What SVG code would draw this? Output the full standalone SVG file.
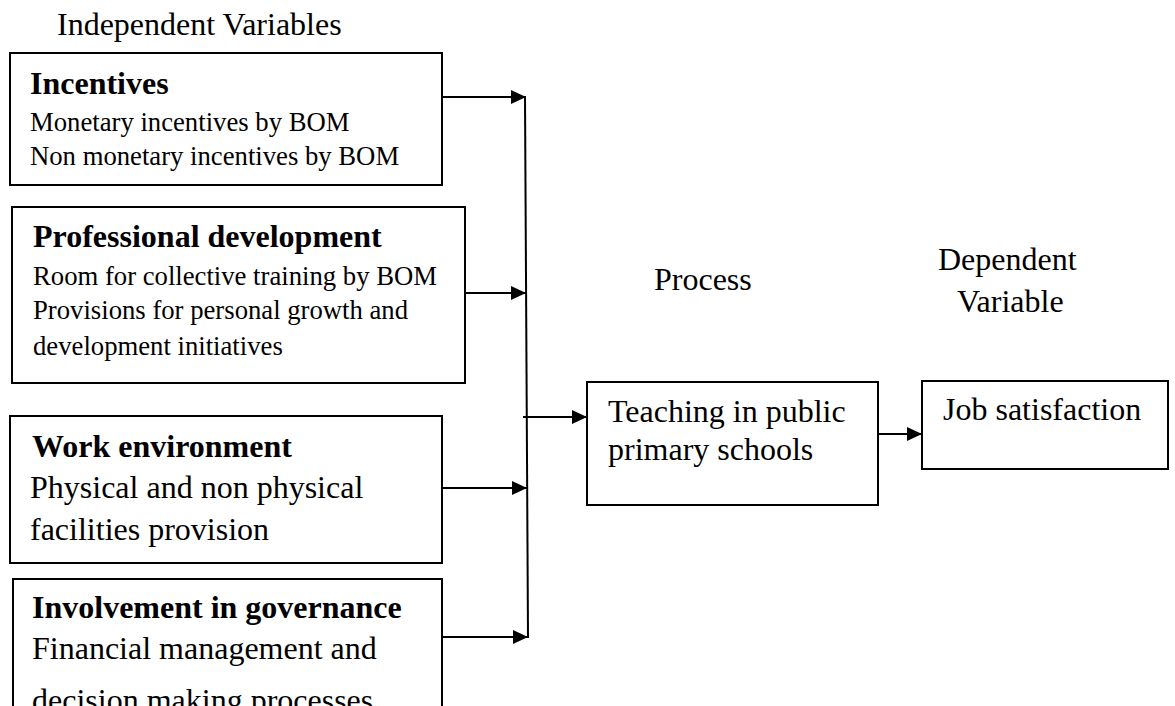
<svg xmlns="http://www.w3.org/2000/svg" width="1175" height="706" viewBox="0 0 1175 706">
  <style>
    .box { fill: #ffffff; stroke: #000000; stroke-width: 2; }
    .t { font-family: "Liberation Serif", "Times New Roman", serif; fill: #000000; font-size: 32px; }
    .b { font-weight: bold; }
    .s { font-size: 26.7px; }
    .conn { stroke: #000000; stroke-width: 2; fill: none; }
  </style>
  <defs>
    <marker id="arrow" markerUnits="userSpaceOnUse" markerWidth="16" markerHeight="16" refX="15" refY="7" orient="auto">
      <path d="M0,0 L15,7 L0,14 Z" fill="#000000"/>
    </marker>
  </defs>
  <rect x="0" y="0" width="1175" height="706" fill="#ffffff"/>

  <text class="t" x="57" y="35">Independent Variables</text>
  <text class="t" x="654" y="290">Process</text>
  <text class="t" x="938" y="270">Dependent</text>
  <text class="t" x="957" y="312">Variable</text>

  <g id="incentives">
    <rect class="box" x="10" y="53" width="432" height="132"/>
    <text class="t b" x="30" y="94">Incentives</text>
    <text class="t s" x="30" y="131">Monetary incentives by BOM</text>
    <text class="t s" x="30" y="165">Non monetary incentives by BOM</text>
  </g>

  <g id="professional-development">
    <rect class="box" x="12" y="207" width="453" height="176"/>
    <text class="t b" x="33" y="247">Professional development</text>
    <text class="t s" x="33" y="285">Room for collective training by BOM</text>
    <text class="t s" x="33" y="319">Provisions for personal growth and</text>
    <text class="t s" x="33" y="355">development initiatives</text>
  </g>

  <g id="work-environment">
    <rect class="box" x="10" y="416" width="432" height="147"/>
    <text class="t b" x="32" y="457">Work environment</text>
    <text class="t" x="30" y="498">Physical and non physical</text>
    <text class="t" x="30" y="540">facilities provision</text>
  </g>

  <g id="involvement-in-governance">
    <rect class="box" x="13" y="579" width="429" height="140"/>
    <text class="t b" x="32" y="618">Involvement in governance</text>
    <text class="t" x="32" y="659">Financial management and</text>
    <text class="t" x="32" y="711">decision making processes</text>
  </g>

  <g id="teaching">
    <rect class="box" x="587" y="382" width="291" height="123"/>
    <text class="t" x="608" y="422">Teaching in public</text>
    <text class="t" x="608" y="460">primary schools</text>
  </g>

  <g id="job-satisfaction">
    <rect class="box" x="922" y="381" width="246" height="88"/>
    <text class="t" x="943" y="420">Job satisfaction</text>
  </g>

  <g id="connectors">
    <line class="conn" x1="525" y1="97" x2="528" y2="638"/>
    <line class="conn" x1="442" y1="97" x2="526" y2="97" marker-end="url(#arrow)"/>
    <line class="conn" x1="465" y1="293" x2="526" y2="293" marker-end="url(#arrow)"/>
    <line class="conn" x1="442" y1="488" x2="527" y2="488" marker-end="url(#arrow)"/>
    <line class="conn" x1="442" y1="637" x2="528" y2="637" marker-end="url(#arrow)"/>
    <line class="conn" x1="523" y1="417" x2="587" y2="417" marker-end="url(#arrow)"/>
    <line class="conn" x1="878" y1="434" x2="922" y2="434" marker-end="url(#arrow)"/>
  </g>
</svg>
